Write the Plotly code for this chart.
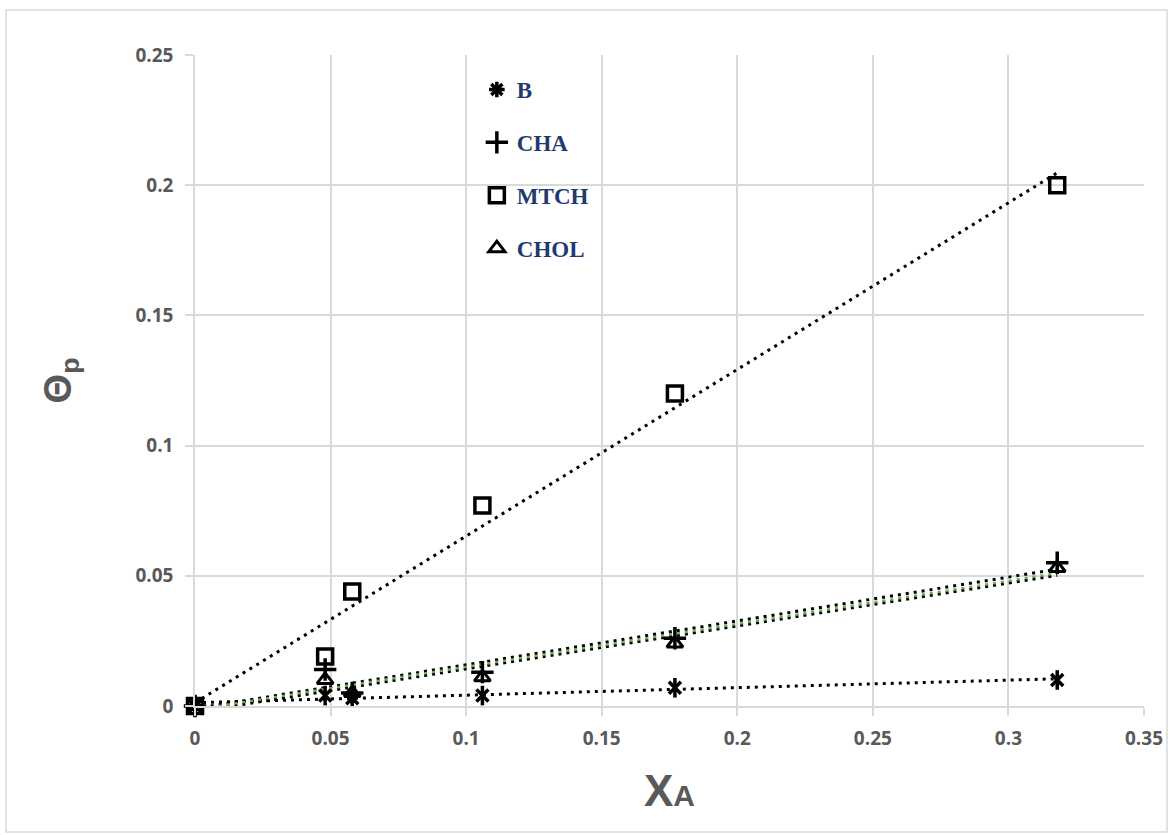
import numpy as np
import plotly.graph_objects as go

# ---- data ----
x_vals = [0, 0.048, 0.058, 0.106, 0.177, 0.318]
b_vals = [0, 0.004, 0.003, 0.004, 0.007, 0.010]
cha_vals = [0, 0.014, 0.005, 0.013, 0.026, 0.055]
mtch_vals = [0, 0.019, 0.044, 0.077, 0.120, 0.200]
chol_vals = [0, 0.010, 0.005, 0.011, 0.024, 0.053]

series_names = ["B", "CHA", "MTCH", "CHOL"]
x_ticks = [0, 0.05, 0.1, 0.15, 0.2, 0.25, 0.3, 0.35]
x_ticktext = ["0", "0.05", "0.1", "0.15", "0.2", "0.25", "0.3", "0.35"]
y_ticks = [0, 0.05, 0.1, 0.15, 0.2, 0.25]
y_ticktext = ["0", "0.05", "0.1", "0.15", "0.2", "0.25"]

GRID = "#d9d9d9"
TXT = "#595959"
NAVY = "#1f3a6e"

fig = go.Figure()

series = [
    ("B", b_vals, "x-thin-open", 12, 3.5),
    ("CHA", cha_vals, "cross-thin-open", 16, 3.5),
    ("MTCH", mtch_vals, "square-open", 15, 3.5),
    ("CHOL", chol_vals, "triangle-up-open", 14, 3),
]

xs = np.array(x_vals)
x_line = np.array([min(x_vals), max(x_vals)])

# trendlines (linear fit computed from data)
for name, ys, _, _, _ in series:
    m, c = np.polyfit(xs, np.array(ys), 1)
    fig.add_trace(go.Scatter(x=x_line, y=m * x_line + c, mode="lines",
                             line=dict(color="black", width=3, dash="3px,5px"),
                             showlegend=False, hoverinfo="skip"))
    if name == "CHOL":
        fig.add_trace(go.Scatter(x=x_line, y=m * x_line + c + 0.0008, mode="lines",
                                 line=dict(color="#70ad47", width=2.5, dash="3px,5px"),
                                 showlegend=False, hoverinfo="skip"))

for i, (name, ys, sym, size, lw) in enumerate(series):
    is_b = name == "B"
    fig.add_trace(go.Scatter(
        x=x_vals, y=ys, mode="markers", name=name, legendgroup=name,
        showlegend=not is_b, cliponaxis=False,
        marker=dict(symbol=sym, size=size, color="black",
                    line=dict(color="black", width=lw)),
    ))
    if is_b:
        # vertical bar completing the 6-armed asterisk marker
        fig.add_trace(go.Scatter(
            x=x_vals, y=ys, mode="markers", showlegend=False, legendgroup=name,
            hoverinfo="skip", cliponaxis=False,
            marker=dict(symbol="line-ns-open", size=14, color="black",
                        line=dict(color="black", width=3.5)),
        ))
        # legend entry for B
        fig.add_trace(go.Scatter(
            x=[None], y=[None], mode="markers", name=name, legendgroup=name,
            marker=dict(symbol="asterisk-open", size=13, color="black",
                        line=dict(color="black", width=3.5)),
        ))

# chart-area border
fig.add_shape(type="rect", xref="paper", yref="paper",
              x0=-0.1992, x1=1.0242, y0=-0.1935, y1=1.0691,
              line=dict(color=GRID, width=1.5), fillcolor="rgba(0,0,0,0)",
              layer="below")

axis_common = dict(
    showgrid=True, gridcolor=GRID, gridwidth=1.5,
    showline=True, linecolor=GRID, linewidth=1.5,
    ticks="outside", ticklen=8, tickcolor=GRID, tickwidth=1.5,
    zeroline=False, automargin=False,
    tickfont=dict(family="Open Sans", size=19, color=TXT, weight="bold"),
)

fig.update_layout(
    width=1171, height=835,
    margin=dict(l=195, r=27, t=55, b=129),
    paper_bgcolor="white", plot_bgcolor="white",
    xaxis=dict(range=[0, 0.35], tickvals=x_ticks, ticktext=x_ticktext,
               ticklabelstandoff=6,
               title=dict(text="X<span style='font-size:30px'>A</span>",
                          font=dict(family="Liberation Sans", size=44, color=TXT,
                                    weight="bold"),
                          standoff=26),
               **axis_common),
    yaxis=dict(range=[0, 0.25], tickvals=y_ticks, ticktext=y_ticktext,
               ticklabelstandoff=8,
               title=dict(text="Θ<sub>p</sub>",
                          font=dict(family="Liberation Sans", size=38, color=TXT,
                                    weight="bold"),
                          standoff=52),
               **axis_common),
    legend=dict(x=0.297, y=0.98, xanchor="left", yanchor="top",
                bgcolor="rgba(0,0,0,0)", tracegroupgap=20,
                itemwidth=30,
                font=dict(family="Liberation Serif", size=23, color=NAVY, weight="bold")),
    showlegend=True,
)

fig.write_html("out.html")
